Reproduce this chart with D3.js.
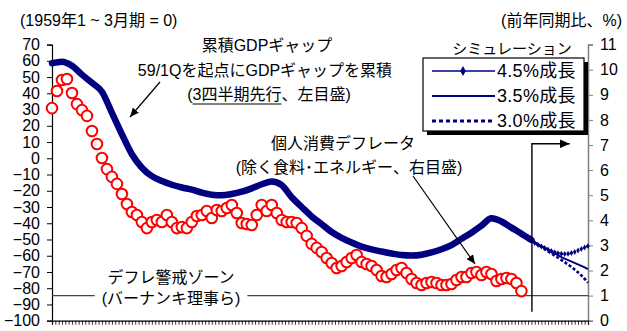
<!DOCTYPE html>
<html><head><meta charset="utf-8">
<script src="https://cdn.jsdelivr.net/npm/d3@7"></script>
<style>
body{margin:0;background:#fff}
svg{display:block}
text{font-family:"Liberation Sans","Noto Sans CJK JP",Arial,sans-serif;fill:#000}
</style>
</head><body>
<svg id="c" width="627" height="331"></svg>
<script>
// ---- data ----
const leftTicks = d3.range(-100, 71, 10);
const rightTicks = d3.range(0, 12, 1);
const monthDomain = [0, 322];
const xTickStep = 2;           // months between small axis ticks
const gapStep = 6;             // months between GDP-gap points
const gapValues = [58.5, 59.5, 57.0, 51.5, 46.5, 41.0, 28.0, 14.8, 2.5, -5.8,
  -11.0, -14.0, -16.3, -18.0, -19.3, -21.1, -22.4, -22.8, -22.0, -20.6,
  -18.5, -16.0, -14.3, -16.5, -24.0, -30.0, -35.8, -40.6, -45.4, -49.0,
  -51.9, -54.4, -56.1, -57.4, -58.6, -59.6, -59.9, -59.4, -58.0, -56.0,
  -53.4, -49.6, -45.8, -41.5, -36.9, -38.9, -42.7, -46.4, -50.3];
const deflatorStep = 3;        // months between deflator points
const deflatorValues = [8.47, 9.15, 9.59, 9.63, 9.07, 8.63, 8.39, 8.16, 7.56, 7.04,
  6.48, 6.04, 5.73, 5.45, 5.05, 4.65, 4.33, 4.21, 3.93, 3.69,
  3.93, 4.01, 3.93, 4.21, 3.93, 3.69, 3.73, 3.69, 3.93, 4.17,
  4.21, 4.37, 4.09, 4.41, 4.37, 4.49, 4.61, 4.29, 3.89, 3.85,
  3.81, 4.21, 4.61, 4.37, 4.61, 4.29, 4.01, 3.93, 3.93, 3.89,
  3.69, 3.38, 3.06, 2.90, 2.74, 2.50, 2.30, 2.10, 2.18, 2.34,
  2.50, 2.62, 2.34, 2.26, 2.18, 2.02, 1.78, 1.74, 1.86, 2.02,
  2.10, 1.90, 1.66, 1.50, 1.42, 1.50, 1.54, 1.50, 1.42, 1.42,
  1.46, 1.62, 1.74, 1.74, 1.90, 1.94, 1.82, 1.94, 1.86, 1.58,
  1.66, 1.70, 1.66, 1.50, 1.18];
const nowMonth = 288;
const simMonths = [288, 294, 300, 306, 312, 318, 322];
const sim35Values = [-50.3, -54.0, -57.4, -60.8, -63.5, -66.3, -68.3];
const sim30Values = [-50.3, -54.6, -58.6, -62.6, -66.9, -72.1, -76.6];
const sim45Months = d3.range(288, 323, 2);
const sim45Values = [-50.3, -52.2, -53.4, -54.3, -55.2, -56.2, -57.1, -57.8, -58.4,
  -58.8, -58.9, -58.8, -58.3, -57.7, -56.8, -55.8, -54.9, -54.0];
const deflationZone = 1;       // % (right axis)
const legendLabels = ["4.5%成長", "3.5%成長", "3.0%成長"];

// ---- scales ----
const svg = d3.select("#c");
const navy = "#000080";
const x = d3.scaleLinear().domain(monthDomain).range([52, 588]);
const yL = d3.scaleLinear().domain([-100, 70]).range([320.7, 44.6]);
const yR = d3.scaleLinear().domain([0, 11]).range([320.7, 44.6]);

// ---- axes ----
const gL = svg.append("g").attr("transform", `translate(${x(0)},0)`)
  .call(d3.axisLeft(yL).tickValues(leftTicks).tickSize(5).tickPadding(7).tickFormat(d3.format("d")));
gL.select(".domain").attr("stroke", "#000").attr("stroke-width", 1.2);
gL.selectAll(".tick line").attr("stroke", "#000");
gL.selectAll(".tick text").attr("font-size", 16).attr("font-family", "Liberation Sans, Arial, sans-serif").attr("fill", "#000");

const gR = svg.append("g").attr("transform", `translate(${x(monthDomain[1])},0)`)
  .call(d3.axisRight(yR).tickValues(rightTicks).tickSize(5).tickPadding(7).tickFormat(d3.format("d")));
gR.select(".domain").attr("stroke", "#808080").attr("stroke-width", 1.5);
gR.selectAll(".tick line").attr("stroke", "#808080");
gR.selectAll(".tick text").attr("font-size", 16).attr("font-family", "Liberation Sans, Arial, sans-serif").attr("fill", "#000");

const gB = svg.append("g").attr("transform", `translate(0,${yL(-100)})`)
  .call(d3.axisBottom(x).tickValues(d3.range(monthDomain[0], monthDomain[1] + 1, xTickStep)).tickSize(4).tickFormat(""));
gB.select(".domain").attr("stroke", "#000").attr("stroke-width", 1.2);
gB.selectAll(".tick line").attr("stroke", "#000").attr("stroke-width", 0.8);

// ---- deflation zone line & label ----
const zoneY = yR(deflationZone);
svg.append("text").attr("x", 171).attr("y", 277).attr("text-anchor", "middle")
  .attr("dominant-baseline", "central").attr("font-size", 16).text("デフレ警戒ゾーン");
const bern = svg.append("text").attr("x", 171).attr("y", 298).attr("text-anchor", "middle")
  .attr("dominant-baseline", "central").attr("font-size", 16).text("(バーナンキ理事ら)");
const bb = bern.node().getBBox();
svg.append("line").attr("x1", x(0)).attr("x2", bb.x - 7).attr("y1", zoneY).attr("y2", zoneY)
  .attr("stroke", "#444").attr("stroke-width", 1.2);
svg.append("line").attr("x1", bb.x + bb.width + 7).attr("x2", x(monthDomain[1])).attr("y1", zoneY).attr("y2", zoneY)
  .attr("stroke", "#444").attr("stroke-width", 1.2);

// ---- GDP gap thick line ----
const gapData = gapValues.map((v, i) => ({m: i * gapStep, v}));
const lineL = d3.line().x(d => x(d.m)).y(d => yL(d.v)).curve(d3.curveMonotoneX);
svg.append("path").datum(gapData).attr("d", lineL).attr("fill", "none")
  .attr("stroke", navy).attr("stroke-width", 6.5).attr("stroke-linejoin", "round").attr("stroke-linecap", "round");

// ---- simulations ----
const s35 = simMonths.map((m, i) => ({m, v: sim35Values[i]}));
const s30 = simMonths.map((m, i) => ({m, v: sim30Values[i]}));
const s45 = sim45Months.map((m, i) => ({m, v: sim45Values[i]}));
svg.append("path").datum(s35).attr("d", lineL).attr("fill", "none").attr("stroke", navy).attr("stroke-width", 2);
svg.append("path").datum(s30).attr("d", lineL).attr("fill", "none").attr("stroke", navy)
  .attr("stroke-width", 2.6).attr("stroke-dasharray", "3,2");
svg.append("path").datum(s45).attr("d", lineL).attr("fill", "none").attr("stroke", navy)
  .attr("stroke-width", 2.2).attr("stroke-dasharray", "2,1.3");
svg.selectAll(".d45").data(s45).enter().append("path")
  .attr("transform", d => `translate(${x(d.m)},${yL(d.v)})`)
  .attr("d", d3.symbol(d3.symbolDiamond, 10)).attr("fill", navy);

// ---- deflator circles ----
const defData = deflatorValues.map((v, i) => ({m: i * deflatorStep, v}));
svg.selectAll(".dc").data(defData).enter().append("circle")
  .attr("cx", d => x(d.m)).attr("cy", d => yR(d.v)).attr("r", 5.3)
  .attr("fill", "#fff").attr("stroke", "#ff0000").attr("stroke-width", 2);

// ---- now line with arrow ----
const defs = svg.append("defs");
function head(id, w, h) {
  defs.append("marker").attr("id", id).attr("markerUnits", "userSpaceOnUse")
    .attr("viewBox", `0 0 ${w} ${h}`).attr("refX", w).attr("refY", h / 2)
    .attr("markerWidth", w).attr("markerHeight", h).attr("orient", "auto")
    .append("path").attr("d", `M0,0L${w},${h / 2}L0,${h}Z`).attr("fill", "#000");
}
head("ah", 9, 8);
head("ahBig", 10, 9);
const xn = x(nowMonth) + 0.5;
svg.append("path")
  .attr("d", `M${xn},${yL(-94.5)}L${xn},${yR(7.05)}L${x(311)},${yR(7.05)}`)
  .attr("fill", "none").attr("stroke", "#000").attr("stroke-width", 1.4).attr("marker-end", "url(#ahBig)");

// ---- annotations ----
svg.append("text").attr("x", 20).attr("y", 20).attr("dominant-baseline", "central")
  .attr("font-size", 16).text("(1959年1 ~ 3月期 = 0)");
svg.append("text").attr("x", 622).attr("y", 20).attr("text-anchor", "end").attr("dominant-baseline", "central")
  .attr("font-size", 16).text("(前年同期比、%)");
svg.append("text").attr("x", 267).attr("y", 45).attr("text-anchor", "middle").attr("dominant-baseline", "central")
  .attr("font-size", 16).text("累積GDPギャップ");
svg.append("text").attr("x", 265).attr("y", 70).attr("text-anchor", "middle").attr("dominant-baseline", "central")
  .attr("font-size", 16).text("59/1Qを起点にGDPギャップを累積");
const t3 = svg.append("text").attr("x", 269).attr("y", 94).attr("text-anchor", "middle").attr("dominant-baseline", "central")
  .attr("font-size", 16).text("(3四半期先行、左目盛)");
{
  const n = t3.node();
  const s = n.getStartPositionOfChar(1).x;
  const e = n.getEndPositionOfChar(6).x;
  svg.append("line").attr("x1", s).attr("x2", e).attr("y1", 104).attr("y2", 104).attr("stroke", "#000").attr("stroke-width", 1);
}
svg.append("line").attr("x1", 160).attr("y1", 82).attr("x2", 130).attr("y2", 117)
  .attr("stroke", "#000").attr("stroke-width", 1.2).attr("marker-end", "url(#ah)");

svg.append("text").attr("x", 343).attr("y", 143).attr("text-anchor", "middle").attr("dominant-baseline", "central")
  .attr("font-size", 16).text("個人消費デフレータ");
svg.append("text").attr("x", 349).attr("y", 167).attr("text-anchor", "middle").attr("dominant-baseline", "central")
  .attr("font-size", 16).text("(除く食料･エネルギー、右目盛)");
svg.append("line").attr("x1", 413).attr("y1", 176).attr("x2", 475).attr("y2", 264)
  .attr("stroke", "#000").attr("stroke-width", 1.2).attr("marker-end", "url(#ah)");

// ---- legend ----
svg.append("text").attr("x", 512).attr("y", 48).attr("text-anchor", "middle").attr("dominant-baseline", "central")
  .attr("font-size", 15).text("シミュレーション");
svg.append("rect").attr("x", 427).attr("y", 62).attr("width", 161).attr("height", 73).attr("fill", "#000");
svg.append("rect").attr("x", 423).attr("y", 58).attr("width", 161).attr("height", 73)
  .attr("fill", "#fff").attr("stroke", "#000").attr("stroke-width", 1.2);
const rows = [71, 96, 121];
legendLabels.forEach((lab, i) => {
  const ly = rows[i];
  const ln = svg.append("line").attr("x1", 432).attr("x2", 495).attr("y1", ly).attr("y2", ly).attr("stroke", navy);
  if (i === 0) {
    ln.attr("stroke-width", 1.4);
    svg.append("path").attr("transform", `translate(463,${ly})`).attr("d", d3.symbol(d3.symbolDiamond, 28)).attr("fill", navy);
  } else if (i === 1) {
    ln.attr("stroke-width", 2);
  } else {
    ln.attr("stroke-width", 2.8).attr("stroke-dasharray", "4,3");
  }
  svg.append("text").attr("x", 497).attr("y", ly).attr("dominant-baseline", "central")
    .attr("font-size", 18).attr("letter-spacing", 0.3).text(lab);
});
</script>
</body></html>
